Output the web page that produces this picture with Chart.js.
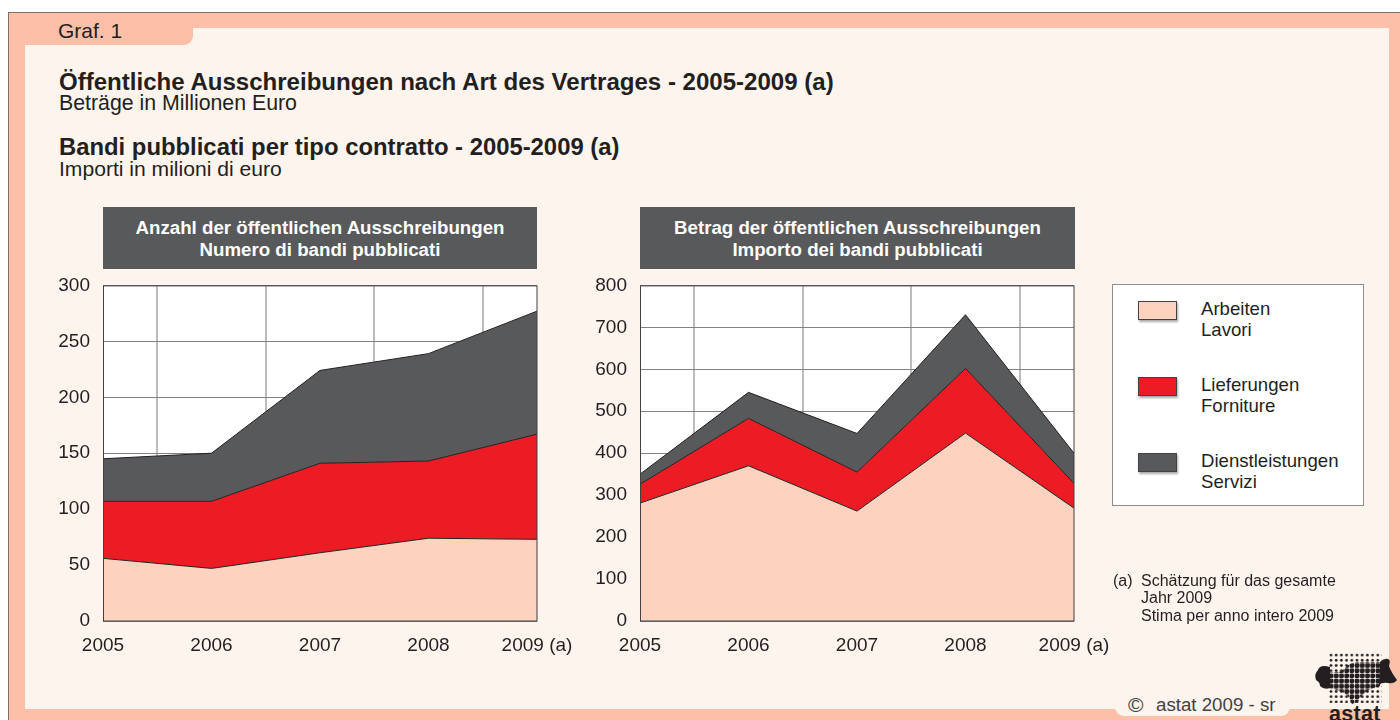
<!DOCTYPE html>
<html>
<head>
<meta charset="utf-8">
<title>Graf. 1</title>
<script src="https://cdn.jsdelivr.net/npm/chart.js@4/dist/chart.umd.min.js"></script>
<style>
html, body { margin: 0; padding: 0; background: #fff; }
body { width: 1400px; height: 720px; position: relative; overflow: hidden; font-family: "Liberation Sans", Arial, sans-serif; color: #231f20; }
#frame { position: absolute; left: 8px; top: 12px; width: 1392px; height: 708px; background: #fdbfa8; border-left: 1px solid #7d7268; border-top: 1px solid #7d7268; box-sizing: border-box; }
#panel { position: absolute; left: 25px; top: 28px; width: 1364px; height: 681px; background: #fef4ee; }
#tab { position: absolute; left: 25px; top: 28px; width: 168px; height: 17px; background: #fdbfa8; border-bottom-right-radius: 9px; }
#copyTab { position: absolute; left: 1115px; top: 700px; width: 175px; height: 16px; background: #fef4ee; border-radius: 0 0 9px 9px; }
.t { position: absolute; white-space: nowrap; line-height: 1; }
.bold { font-weight: bold; }
.head { position: absolute; top: 207px; height: 62px; background: #58595b; color: #fff; font-weight: bold; font-size: 18.7px; line-height: 22px; text-align: center; padding-top: 10px; box-sizing: border-box; }
canvas { position: absolute; top: 261px; }
#legendBox { position: absolute; left: 1112px; top: 284px; width: 252px; height: 222px; background: #fff; border: 1px solid #8f8f8f; box-sizing: border-box; }
.sw { position: absolute; left: 1138px; width: 39px; height: 19px; border: 1px solid #414042; box-sizing: border-box; box-shadow: 1px 2px 2px #a9a9a9; }
svg { position: absolute; left: 1310px; top: 648px; }
</style>
</head>
<body>
<div id="frame"></div>
<div id="panel"></div>
<div id="tab"></div>
<div id="copyTab"></div>

<div class="t" style="left:58px;top:20px;font-size:21px">Graf. 1</div>
<div class="t bold" style="left:59px;top:70px;font-size:24.05px">Öffentliche Ausschreibungen nach Art des Vertrages - 2005-2009 (a)</div>
<div class="t" style="left:59px;top:93px;font-size:21.3px">Beträge in Millionen Euro</div>
<div class="t bold" style="left:59px;top:135px;font-size:23.85px">Bandi pubblicati per tipo contratto - 2005-2009 (a)</div>
<div class="t" style="left:59px;top:158px;font-size:21.1px">Importi in milioni di euro</div>

<div class="head" style="left:103px;width:434px">Anzahl der öffentlichen Ausschreibungen<br>Numero di bandi pubblicati</div>
<div class="head" style="left:640px;width:435px">Betrag der öffentlichen Ausschreibungen<br>Importo dei bandi pubblicati</div>

<canvas id="chartCount" width="540" height="404" style="left:50px"></canvas>
<canvas id="chartAmount" width="540" height="404" style="left:587px"></canvas>

<div id="legendBox"></div>
<div class="sw" style="top:301px;background:#fdd2bf"></div>
<div class="sw" style="top:377px;background:#ed1c24"></div>
<div class="sw" style="top:453px;background:#58595b"></div>
<div class="t" style="left:1201px;top:300px;font-size:18.6px">Arbeiten</div>
<div class="t" style="left:1201px;top:321px;font-size:18.6px">Lavori</div>
<div class="t" style="left:1201px;top:376px;font-size:18.6px">Lieferungen</div>
<div class="t" style="left:1201px;top:397px;font-size:18.6px">Forniture</div>
<div class="t" style="left:1201px;top:452px;font-size:18.6px">Dienstleistungen</div>
<div class="t" style="left:1201px;top:473px;font-size:18.6px">Servizi</div>

<div class="t" style="left:1113px;top:573px;font-size:16px">(a)</div>
<div class="t" style="left:1141px;top:573px;font-size:16px">Schätzung für das gesamte</div>
<div class="t" style="left:1141px;top:590px;font-size:16px">Jahr 2009</div>
<div class="t" style="left:1141px;top:608px;font-size:16px">Stima per anno intero 2009</div>

<div class="t" style="left:1128px;top:694px;font-size:21px;color:#414042">©</div>
<div class="t" style="left:1156px;top:696px;font-size:18.7px;color:#414042">astat 2009 - sr</div>

<svg width="90" height="60" viewBox="1310 648 90 60">
  <defs>
    <pattern id="dotsSmall" x="1329" y="653" width="5.2" height="5.2" patternUnits="userSpaceOnUse"><circle cx="2" cy="2" r="1.4" fill="#231f20"/></pattern>
    <pattern id="dotsLarge" x="1329" y="653" width="5.2" height="5.2" patternUnits="userSpaceOnUse"><circle cx="2" cy="2" r="2.7" fill="#231f20"/></pattern>
  </defs>
  <rect x="1329" y="653" width="53" height="50" fill="url(#dotsSmall)"/>
  <path d="M1328 672 Q1340 674 1345 668 Q1350 662 1358 662 L1380 662 L1380 686 Q1372 688 1366 692 Q1360 696 1358 702 L1352 704 L1348 696 Q1342 690 1328 688 Z" fill="url(#dotsLarge)"/>
  <path d="M1330 667 Q1320 664 1318 670 Q1314 674 1316 680 Q1320 682 1320 686 Q1324 690 1330 688 Z" fill="#231f20"/>
  <path d="M1380 662 Q1384 658 1388 659 Q1391 660 1389 666 Q1391 672 1397 680 Q1394 684 1388 683 Q1382 682 1379 685 Z" fill="#231f20"/>
</svg>
<div class="t bold" style="left:1329px;top:704px;font-size:21.5px;letter-spacing:0.3px">astat</div>

<script>
const years = [2005, 2006, 2007, 2008, 2009];
const yearLabels = ['2005', '2006', '2007', '2008', '2009 (a)'];
const seriesNames = ['Arbeiten / Lavori', 'Lieferungen / Forniture', 'Dienstleistungen / Servizi'];
const seriesColors = ['#fdd2bf', '#ed1c24', '#58595b'];

// Anzahl der öffentlichen Ausschreibungen
const countArbeiten = [56, 47, 61, 74, 73];
const countLieferungen = [51, 60, 80, 69, 94];
const countDienst = [38, 43, 83, 96, 110];

// Betrag der öffentlichen Ausschreibungen
const amountArbeiten = [281, 370, 262, 448, 269];
const amountLieferungen = [45, 113, 93, 154, 59];
const amountDienst = [24, 62, 92, 128, 72];

// white plot background and the dark frame round it
const plotFrame = {
    id: 'plotFrame',
    beforeDraw(chart) {
        const a = chart.chartArea;
        chart.ctx.fillStyle = '#fff';
        chart.ctx.fillRect(a.left, a.top, a.width, a.height);
    },
    afterDraw(chart) {
        const a = chart.chartArea;
        chart.ctx.strokeStyle = '#414042';
        chart.ctx.lineWidth = 1;
        chart.ctx.strokeRect(a.left + 0.5, a.top + 0.5, a.width - 0.5, a.height - 0.5);
    }
};

function makeDataset(i, values) {
    return {
        label: seriesNames[i],
        data: years.map((y, k) => ({ x: y, y: values[k] })),
        backgroundColor: seriesColors[i],
        borderColor: '#231f20',
        borderWidth: 1,
        fill: i === 0 ? 'origin' : '-1',
        tension: 0,
        pointRadius: 0
    };
}

function drawChart(id, series, yMax, yStep) {
    new Chart(document.getElementById(id), {
        type: 'line',
        data: { datasets: series.map((values, i) => makeDataset(i, values)) },
        plugins: [plotFrame],
        options: {
            responsive: false,
            animation: false,
            layout: { padding: { top: 6, right: 53 } },
            plugins: { legend: { display: false }, title: { display: false } },
            scales: {
                x: {
                    type: 'linear',
                    min: 2005,
                    max: 2009,
                    afterFit: (scale) => { scale.height = 44; },
                    border: { display: false },
                    // vertical lines sit halfway between the years
                    grid: {
                        drawTicks: false,
                        color: (c) => (c.tick && c.tick.value % 1 === 0) ? 'rgba(0,0,0,0)' : '#bcbcbe',
                        lineWidth: 2
                    },
                    ticks: {
                        stepSize: 0.5,
                        autoSkip: false,
                        maxRotation: 0,
                        padding: 13,
                        color: '#231f20',
                        font: { family: '"Liberation Sans"', size: 19 },
                        callback: (v) => v % 1 === 0 ? yearLabels[years.indexOf(v)] : ''
                    }
                },
                y: {
                    stacked: true,
                    min: 0,
                    max: yMax,
                    afterFit: (scale) => { scale.width = 53; },
                    border: { display: false },
                    grid: { drawTicks: false, color: '#808285', lineWidth: 1 },
                    ticks: {
                        stepSize: yStep,
                        padding: 13,
                        color: '#231f20',
                        font: { family: '"Liberation Sans"', size: 19 }
                    }
                }
            }
        }
    });
}

drawChart('chartCount', [countArbeiten, countLieferungen, countDienst], 300, 50);
drawChart('chartAmount', [amountArbeiten, amountLieferungen, amountDienst], 800, 100);
</script>
</body>
</html>
